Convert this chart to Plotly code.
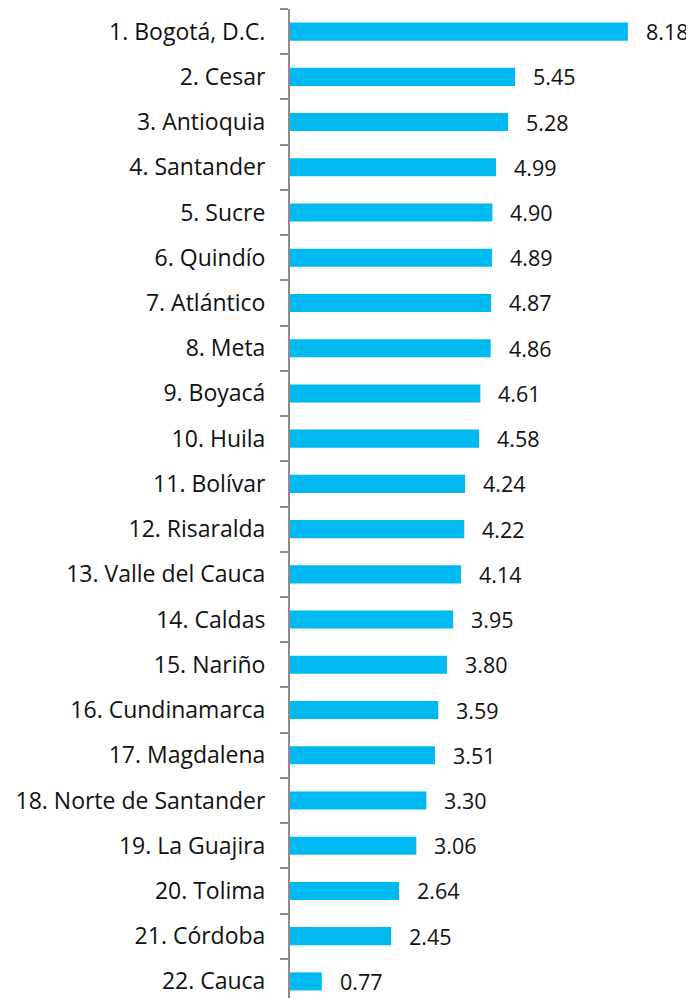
import plotly.graph_objects as go

categories = ["1. Bogotá, D.C.", "2. Cesar", "3. Antioquia", "4. Santander", "5. Sucre",
              "6. Quindío", "7. Atlántico", "8. Meta", "9. Boyacá", "10. Huila",
              "11. Bolívar", "12. Risaralda", "13. Valle del Cauca", "14. Caldas",
              "15. Nariño", "16. Cundinamarca", "17. Magdalena", "18. Norte de Santander",
              "19. La Guajira", "20. Tolima", "21. Córdoba", "22. Cauca"]
values = [8.18, 5.45, 5.28, 4.99, 4.90, 4.89, 4.87, 4.86, 4.61, 4.58, 4.24, 4.22,
          4.14, 3.95, 3.80, 3.59, 3.51, 3.30, 3.06, 2.64, 2.45, 0.77]

FONT = "Open Sans"
fig = go.Figure(go.Bar(
    x=values, y=categories, orientation="h",
    marker=dict(color="#00B9F0", line=dict(width=0)),
    width=0.4, hoverinfo="skip",
))

for c, v in zip(categories, values):
    fig.add_annotation(x=v, y=c, text=f"{v:.2f}", showarrow=False,
                       xanchor="left", xshift=16, yanchor="middle",
                       font=dict(family=FONT, size=21.5, color="#111111"))

n = len(categories)
# page body has an 8px default margin; compensate so the plot lands on the reference pixels
fig.update_layout(
    width=686, height=990,
    margin=dict(l=282, r=0, t=1, b=0),
    paper_bgcolor="white", plot_bgcolor="white",
    showlegend=False,
    xaxis=dict(range=[0, 404 / 41.3], visible=False, showgrid=False, zeroline=False),
    yaxis=dict(
        type="category", categoryorder="array", categoryarray=categories,
        range=[n - 0.5 - 6 / 45.22, -0.5],
        showline=True, linecolor="#8C8C8C", linewidth=2,
        ticks="outside", ticklen=8, tickcolor="#8C8C8C", tickwidth=2,
        tickson="boundaries", ticklabelstandoff=18,
        showgrid=False, zeroline=False,
        tickfont=dict(family=FONT, size=23, color="#111111"),
    ),
)

fig.write_html("out.html")
